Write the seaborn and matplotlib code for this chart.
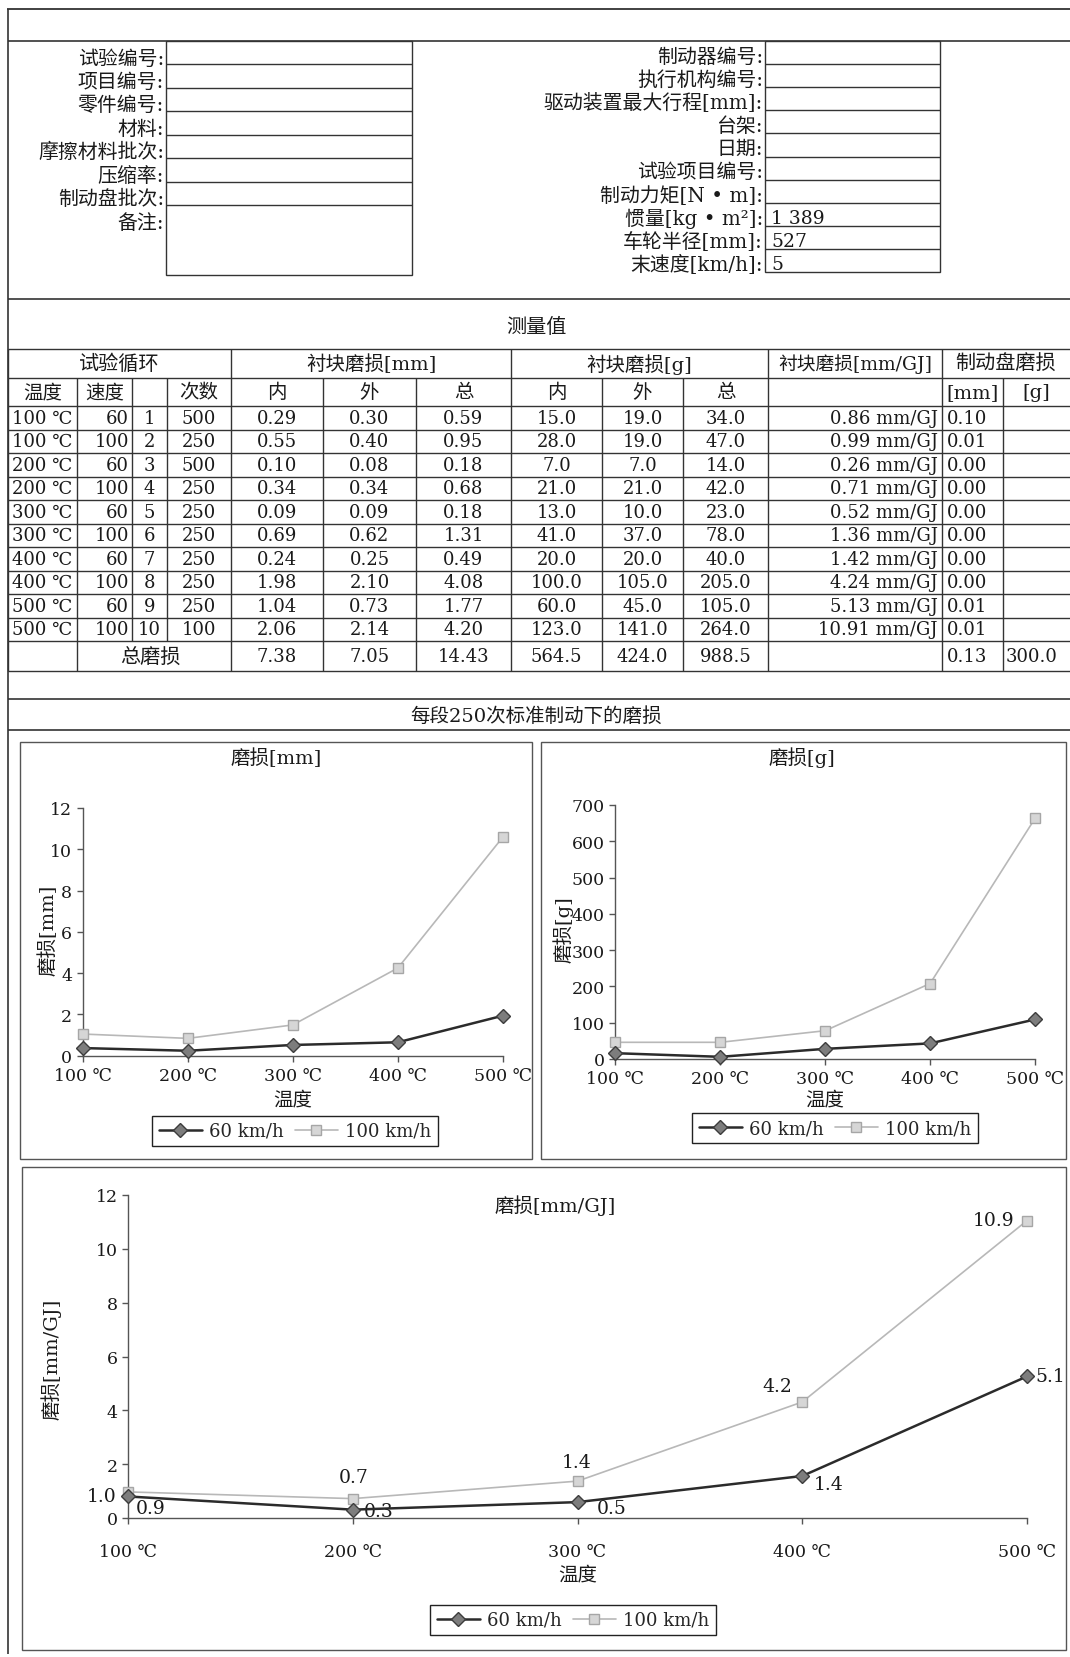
import numpy as np
import pandas as pd
import matplotlib
matplotlib.use('Agg')
import matplotlib.pyplot as plt
from matplotlib.patches import Rectangle
import seaborn as sns

sns.set_style('ticks')
plt.rcParams['font.family'] = ['DejaVu Serif', 'Noto Sans CJK SC']
plt.rcParams['axes.unicode_minus'] = False

W, H = 1070, 1658
INK = '#1a1a1a'
LINE = '#333333'

# form fields
left_labels = ['试验编号:', '项目编号:', '零件编号:', '材料:', '摩擦材料批次:', '压缩率:', '制动盘批次:', '备注:']
right_labels = ['制动器编号:', '执行机构编号:', '驱动装置最大行程[mm]:', '台架:', '日期:', '试验项目编号:',
                '制动力矩[N • m]:', '惯量[kg • m²]:', '车轮半径[mm]:', '末速度[km/h]:']
right_values = ['', '', '', '', '', '', '', '1 389', '527', '5']

# measurement table
cycle_temp = ['100 ℃', '100 ℃', '200 ℃', '200 ℃', '300 ℃', '300 ℃', '400 ℃', '400 ℃', '500 ℃', '500 ℃']
cycle_speed = [60, 100, 60, 100, 60, 100, 60, 100, 60, 100]
cycle_no = [1, 2, 3, 4, 5, 6, 7, 8, 9, 10]
cycle_count = [500, 250, 500, 250, 250, 250, 250, 250, 250, 100]
mm_inner = [0.29, 0.55, 0.10, 0.34, 0.09, 0.69, 0.24, 1.98, 1.04, 2.06]
mm_outer = [0.30, 0.40, 0.08, 0.34, 0.09, 0.62, 0.25, 2.10, 0.73, 2.14]
mm_total = [0.59, 0.95, 0.18, 0.68, 0.18, 1.31, 0.49, 4.08, 1.77, 4.20]
g_inner = [15.0, 28.0, 7.0, 21.0, 13.0, 41.0, 20.0, 100.0, 60.0, 123.0]
g_outer = [19.0, 19.0, 7.0, 21.0, 10.0, 37.0, 20.0, 105.0, 45.0, 141.0]
g_total = [34.0, 47.0, 14.0, 42.0, 23.0, 78.0, 40.0, 205.0, 105.0, 264.0]
mm_per_gj = [0.86, 0.99, 0.26, 0.71, 0.52, 1.36, 1.42, 4.24, 5.13, 10.91]
disc_mm = [0.10, 0.01, 0.00, 0.00, 0.00, 0.00, 0.00, 0.00, 0.01, 0.01]
sum_row = ['7.38', '7.05', '14.43', '564.5', '424.0', '988.5']
sum_disc = ['0.13', '300.0']

# charts (wear per 250 brakes)
temps = [100, 200, 300, 400, 500]
temp_labels = ['100 ℃', '200 ℃', '300 ℃', '400 ℃', '500 ℃']
wear_mm_60 = [0.37, 0.24, 0.52, 0.65, 1.94]
wear_mm_100 = [1.05, 0.84, 1.49, 4.25, 10.6]
wear_g_60 = [16, 6, 28, 43, 109]
wear_g_100 = [46, 46, 78, 208, 663]
wear_gj_60 = [0.80, 0.31, 0.59, 1.56, 5.26]
wear_gj_100 = [0.97, 0.72, 1.37, 4.31, 11.05]
gj_text_60 = ['0.9', '0.3', '0.5', '1.4', '5.1']
gj_text_100 = ['1.0', '0.7', '1.4', '4.2', '10.9']


fig = plt.figure(figsize=(W / 100, H / 100), dpi=100)
bg = fig.add_axes([0, 0, 1, 1])
bg.set_xlim(0, W)
bg.set_ylim(H, 0)
bg.axis('off')


def hline(y, x0, x1, lw=1.0, c=LINE):
    bg.plot([x0, x1], [y, y], color=c, lw=lw, solid_capstyle='butt')


def vline(x, y0, y1, lw=1.0, c=LINE):
    bg.plot([x, x], [y0, y1], color=c, lw=lw, solid_capstyle='butt')


def txt(x, y, s, ha='center', size=13, **kw):
    bg.text(x, y, s, ha=ha, va='center', fontsize=size, color=INK, **kw)


#Page frame
#--------------------------------------------------
hline(10, 7, W, lw=1.3)
vline(8, 10, 1655, lw=1.2)
hline(42, 8, W, lw=1.2)
hline(300, 8, W, lw=1.2)
hline(700, 8, W, lw=1.2)
hline(731, 8, W, lw=1.2)
#--------------------------------------------------

#Form
#--------------------------------------------------
left_rows = np.linspace(42, 206, 8)
bg.add_patch(Rectangle((166, 42), 412 - 166, 276 - 42, fill=False, ec=LINE, lw=1.0))
for y in left_rows[1:]:
    hline(y, 166, 412)
for y, lab in zip(left_rows, left_labels):
    txt(164, y + 17, lab, ha='right', size=14.3)

right_rows = np.linspace(42, 273, 11)
bg.add_patch(Rectangle((765, 42), 940 - 765, 273 - 42, fill=False, ec=LINE, lw=1.0))
for y in right_rows[1:-1]:
    hline(y, 765, 940)
for y, lab, val in zip(right_rows, right_labels, right_values):
    txt(763, y + 15, lab, ha='right', size=14.3)
    if val:
        txt(771, y + 15, val, ha='left', size=13.5)
#--------------------------------------------------

#Measurement table
#--------------------------------------------------
txt(536, 327, '测量值', size=14.5)
col_x = [8, 77, 132, 167, 231, 323, 416, 511, 602, 683, 768, 942, 1003, W]
row_h = 23.5
row_y = [350, 379, 407] + [407 + row_h * (i + 1) for i in range(10)] + [672]
for y in row_y:
    hline(y, 8, W)
# header row 1 separators
for x in [8, 231, 511, 768, 942]:
    vline(x, 350, 379)
# header row 2 and data rows
for x in col_x[:-1]:
    vline(x, 379, row_y[-2])
for x in [8, 77, 231, 323, 416, 511, 602, 683, 768, 942, 1003]:
    vline(x, row_y[-2], 672)

txt(119.5, 364.5, '试验循环', size=14.5)
txt(371, 364.5, '衬块磨损[mm]', size=14)
txt(639.5, 364.5, '衬块磨损[g]', size=14)
txt(855, 364.5, '衬块磨损[mm/GJ]', size=13.5)
txt(1006, 364.5, '制动盘磨损', size=14.5)
sub_heads = ['温度', '速度', '', '次数', '内', '外', '总', '内', '外', '总', '', '[mm]', '[g]']
for i, s in enumerate(sub_heads):
    if s:
        txt((col_x[i] + col_x[i + 1]) / 2, 393, s, size=14)

def mid(i):
    return (col_x[i] + col_x[i + 1]) / 2

for r in range(10):
    y = 407 + row_h * (r + 0.5)
    txt(mid(0), y, cycle_temp[r])
    txt(129, y, str(cycle_speed[r]), ha='right')
    txt(mid(2), y, str(cycle_no[r]))
    txt(mid(3), y, str(cycle_count[r]))
    for c, col in zip([4, 5, 6], [mm_inner, mm_outer, mm_total]):
        txt(mid(c), y, f'{col[r]:.2f}')
    for c, col in zip([7, 8, 9], [g_inner, g_outer, g_total]):
        txt(mid(c), y, f'{col[r]:.1f}')
    txt(938, y, f'{mm_per_gj[r]:.2f} mm/GJ', ha='right')
    txt(947, y, f'{disc_mm[r]:.2f}', ha='left')

ys = (row_y[-2] + 672) / 2
txt(150, ys, '总磨损', size=14.5)
for c, s in zip([4, 5, 6, 7, 8, 9], sum_row):
    txt(mid(c), ys, s)
txt(947, ys, sum_disc[0], ha='left')
txt(1006, ys, sum_disc[1], ha='left')
#--------------------------------------------------

#Charts
#--------------------------------------------------
txt(536, 716, '每段250次标准制动下的磨损', size=14)
for (x0, y0, x1, y1) in [(20, 743, 532, 1160), (541, 743, 1066, 1160), (22, 1168, 1066, 1651)]:
    bg.add_patch(Rectangle((x0, y0), x1 - x0, y1 - y0, fill=False, ec='#555555', lw=1.0))


def px_axes(x0, y0, x1, y1):
    return fig.add_axes([x0 / W, 1 - y1 / H, (x1 - x0) / W, (y1 - y0) / H])


def draw_chart(ax, v60, v100, ylim, yticks, ylabel, ylab_xy, xlab_y, legend_xy, xpad=4):
    df = pd.DataFrame({'temp': temps * 2, 'wear': v60 + v100,
                       'speed': ['60 km/h'] * 5 + ['100 km/h'] * 5})
    sns.lineplot(data=df[df['speed'] == '60 km/h'], x='temp', y='wear', ax=ax,
                 color='#2b2b2b', lw=1.8, marker='D', markersize=7.5,
                 markerfacecolor='#7d7d7d', markeredgecolor='#3c3c3c', markeredgewidth=1,
                 label='60 km/h', errorbar=None, clip_on=False, zorder=4)
    sns.lineplot(data=df[df['speed'] == '100 km/h'], x='temp', y='wear', ax=ax,
                 color='#b8b8b8', lw=1.2, marker='s', markersize=7,
                 markerfacecolor='#d6d6d6', markeredgecolor='#a6a6a6', markeredgewidth=1,
                 label='100 km/h', errorbar=None, clip_on=False, zorder=3)
    ax.set_facecolor('none')
    ax.set_xlim(100, 500)
    ax.set_ylim(*ylim)
    ax.set_yticks(yticks)
    ax.set_xticks(temps)
    ax.set_xticklabels(temp_labels)
    for s in ['top', 'right']:
        ax.spines[s].set_visible(False)
    for s in ['left', 'bottom']:
        ax.spines[s].set_color('#555555')
        ax.spines[s].set_linewidth(1.0)
    ax.tick_params(axis='both', direction='out', length=4, width=1, color='#555555',
                   labelsize=12.5, labelcolor=INK)
    ax.tick_params(axis='x', pad=xpad)
    ax.set_ylabel(ylabel, fontsize=14, color=INK)
    ax.yaxis.set_label_coords(*ylab_xy)
    ax.yaxis.label.set_verticalalignment('center')
    ax.set_xlabel('温度', fontsize=14, color=INK)
    ax.xaxis.set_label_coords(0.5, xlab_y)
    ax.xaxis.label.set_verticalalignment('center')
    leg = ax.legend(loc='center', bbox_to_anchor=(legend_xy[0] / W, 1 - legend_xy[1] / H),
                    bbox_transform=fig.transFigure, ncol=2, frameon=True, fancybox=False,
                    edgecolor='#222222', framealpha=1, handlelength=2.4, columnspacing=0.6,
                    handletextpad=0.4, fontsize=13, borderpad=0.35)
    leg.get_frame().set_linewidth(1.0)


ax_mm = px_axes(82.6, 809, 503, 1056.7)
draw_chart(ax_mm, wear_mm_60, wear_mm_100, (0, 12), [0, 2, 4, 6, 8, 10, 12], '磨损[mm]',
           ((48 - 82.6) / 420.4, (1056.7 - 930) / 247.7), (1056.7 - 1100) / 247.7, (295, 1132))
txt(276, 758, '磨损[mm]', size=14)

ax_g = px_axes(615.4, 806, 1035, 1060)
draw_chart(ax_g, wear_g_60, wear_g_100, (0, 700), list(range(0, 701, 100)), '磨损[g]',
           ((563.6 - 615.4) / 419.6, (1060 - 930) / 254), (1060 - 1100) / 254, (835, 1129))
txt(802, 758, '磨损[g]', size=14)

ax_gj = px_axes(128, 1196, 1027, 1519)
draw_chart(ax_gj, wear_gj_60, wear_gj_100, (0, 12), [0, 2, 4, 6, 8, 10, 12], '磨损[mm/GJ]',
           ((51 - 128) / 899, (1519 - 1359) / 323), (1519 - 1575) / 323, (573, 1621), xpad=14)
txt(555, 1206, '磨损[mm/GJ]', size=14)

off_100 = [(-26, 4), (1, -22), (-1, -19), (-25, -16), (-33, -1)]
off_60 = [(23, 12), (26, 1), (34, 6), (26, 8), (23, 0)]
for x, v, s, (dx, dy) in zip(temps, wear_gj_100, gj_text_100, off_100):
    ax_gj.annotate(s, (x, v), xytext=(dx, -dy), textcoords='offset pixels',
                   ha='center', va='center', fontsize=13.5, color=INK)
for x, v, s, (dx, dy) in zip(temps, wear_gj_60, gj_text_60, off_60):
    ax_gj.annotate(s, (x, v), xytext=(dx, -dy), textcoords='offset pixels',
                   ha='center', va='center', fontsize=13.5, color=INK)
#--------------------------------------------------

fig.savefig('out.png', dpi=100)
